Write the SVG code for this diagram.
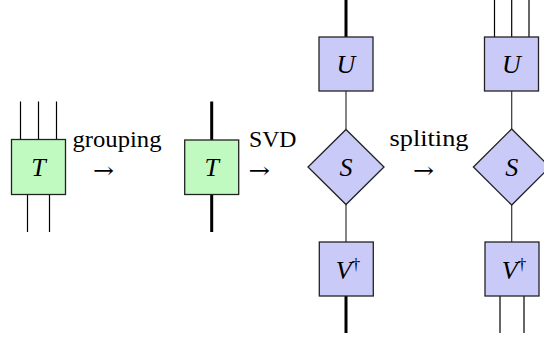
<svg xmlns="http://www.w3.org/2000/svg" width="544" height="342" viewBox="0 0 544 342">
  <style>
    .leg { stroke: #000; stroke-width: 1.2; fill: none; }
    .bond { stroke: #000; stroke-width: 3; fill: none; }
    .link { stroke: #333; stroke-width: 1.2; fill: none; }
    .tg { fill: #c0fac0; stroke: #222; stroke-width: 1.3; }
    .tb { fill: #cacaf8; stroke: #222; stroke-width: 1.3; }
    .lbl { font-family: 'Liberation Serif', serif; font-style: italic; font-size: 26px; fill: #000; text-anchor: middle; }
    .word { font-family: 'Liberation Serif', serif; font-size: 24px; fill: #000; }
    .arr { font-family: 'DejaVu Serif', serif; font-size: 22px; fill: #000; }
  </style>
  <rect width="544" height="342" fill="#fff"/>

  <!-- connectors: open legs and bonds between tensors -->
  <g id="connectors">
    <!-- T with three upper, two lower legs -->
    <line class="leg" x1="20.5" y1="101.5" x2="20.5" y2="139.5"/>
    <line class="leg" x1="38.5" y1="101.5" x2="38.5" y2="139.5"/>
    <line class="leg" x1="56.5" y1="101.5" x2="56.5" y2="139.5"/>
    <line class="leg" x1="27.5" y1="194.5" x2="27.5" y2="232"/>
    <line class="leg" x1="49.5" y1="194.5" x2="49.5" y2="232"/>
    <!-- grouped T -->
    <line class="bond" x1="211.7" y1="101.5" x2="211.7" y2="140"/>
    <line class="bond" x1="211.7" y1="194.5" x2="211.7" y2="232"/>
    <!-- SVD column -->
    <line class="bond" x1="346" y1="0" x2="346" y2="37"/>
    <line class="link" x1="346" y1="91" x2="346" y2="129.5"/>
    <line class="link" x1="346" y1="204.5" x2="346" y2="242"/>
    <line class="bond" x1="346" y1="296" x2="346" y2="333"/>
    <!-- split column -->
    <line class="leg" x1="494.5" y1="0" x2="494.5" y2="37"/>
    <line class="leg" x1="511.7" y1="0" x2="511.7" y2="37"/>
    <line class="leg" x1="529" y1="0" x2="529" y2="37"/>
    <line class="link" x1="511.7" y1="91" x2="511.7" y2="129"/>
    <line class="link" x1="511.7" y1="205" x2="511.7" y2="242"/>
    <line class="leg" x1="500" y1="296" x2="500" y2="333"/>
    <line class="leg" x1="524" y1="296" x2="524" y2="333"/>
  </g>

  <g id="T1">
    <rect class="tg" x="11.5" y="139.5" width="54" height="55"/>
    <text class="lbl" font-family="Liberation Serif" x="38.5" y="176">T</text>
  </g>
  <g id="T2">
    <rect class="tg" x="184.7" y="140" width="54" height="54.5"/>
    <text class="lbl" font-family="Liberation Serif" x="211.7" y="176">T</text>
  </g>

  <g id="U1">
    <rect class="tb" x="319" y="37" width="54" height="54"/>
    <text class="lbl" font-family="Liberation Serif" x="346" y="73">U</text>
  </g>
  <g id="S1">
    <polygon class="tb" points="346,129.5 384,167 346,204.5 308,167"/>
    <text class="lbl" font-family="Liberation Serif" x="346" y="176">S</text>
  </g>
  <g id="V1">
    <rect class="tb" x="319.3" y="242" width="54" height="54"/>
    <text class="lbl" font-family="Liberation Serif" x="348" y="279">V<tspan font-style="normal" font-size="17" dy="-9">†</tspan></text>
  </g>

  <g id="U2">
    <rect class="tb" x="484.5" y="37" width="54" height="54"/>
    <text class="lbl" font-family="Liberation Serif" x="511.5" y="73">U</text>
  </g>
  <g id="S2">
    <polygon class="tb" points="511.7,129 550,167 511.7,205 473.4,167"/>
    <text class="lbl" font-family="Liberation Serif" x="511.7" y="176">S</text>
  </g>
  <g id="V2">
    <rect class="tb" x="485" y="242" width="54" height="54"/>
    <text class="lbl" font-family="Liberation Serif" x="514" y="279">V<tspan font-style="normal" font-size="17" dy="-9">†</tspan></text>
  </g>

  <!-- step captions -->
  <g id="step-grouping">
    <text class="word" font-family="Liberation Serif" x="72.5" y="147" textLength="89" lengthAdjust="spacingAndGlyphs">grouping</text>
    <text class="arr" font-family="DejaVu Serif" x="93" y="178" textLength="21" lengthAdjust="spacingAndGlyphs">→</text>
  </g>
  <g id="step-svd">
    <text class="word" font-family="Liberation Serif" x="249" y="147" textLength="47.5" lengthAdjust="spacingAndGlyphs">SVD</text>
    <text class="arr" font-family="DejaVu Serif" x="248.5" y="178" textLength="21.5" lengthAdjust="spacingAndGlyphs">→</text>
  </g>
  <g id="step-split">
    <text class="word" font-family="Liberation Serif" x="389.5" y="146" textLength="79" lengthAdjust="spacingAndGlyphs">spliting</text>
    <text class="arr" font-family="DejaVu Serif" x="413" y="178" textLength="21" lengthAdjust="spacingAndGlyphs">→</text>
  </g>
</svg>
